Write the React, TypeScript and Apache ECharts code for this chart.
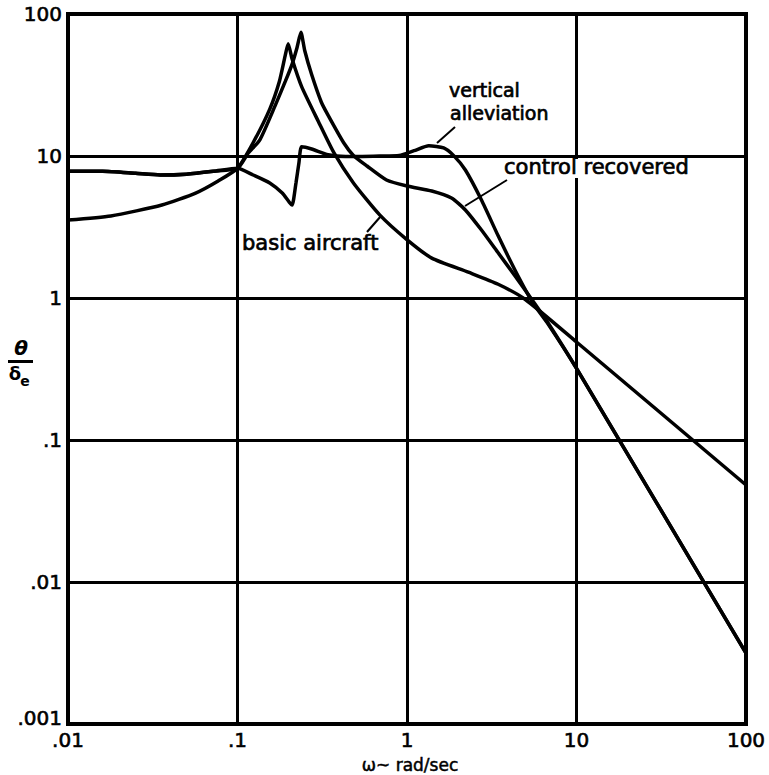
import React, { useEffect, useRef } from "react";
import * as echarts from "echarts";

const xTickLabels = [".01", ".1", "1", "10", "100"];
const yTickLabels = [".001", ".01", ".1", "1", "10", "100"];

// omega (rad/sec), theta/delta_e
const basicAircraft: [number, number][] = [
  [0.01, 3.54], [0.0179, 3.78], [0.0358, 4.52], [0.0566, 5.48], [0.0769, 6.67],
  [0.1, 8.2], [0.1236, 12.4], [0.155, 21.4], [0.1766, 33.5], [0.191, 50.7],
  [0.199, 61.8], [0.21, 48.2], [0.239, 30.8], [0.3, 17.5], [0.371, 10.5],
  [0.483, 6.46], [0.69, 3.85], [0.99, 2.6], [1.4, 1.91], [2.3, 1.52],
  [3.45, 1.25], [4.97, 0.98], [10, 0.49], [100, 0.0482],
];

const verticalAlleviation: [number, number][] = [
  [0.01, 7.8], [0.016, 7.8], [0.025, 7.55], [0.035, 7.35], [0.05, 7.45],
  [0.072, 7.8], [0.1, 8.2], [0.1236, 7.35], [0.155, 6.46], [0.1837, 5.48],
  [0.2018, 4.74], [0.21, 4.52], [0.2213, 6.46], [0.2303, 8.93], [0.239, 11.6],
  [0.2735, 11.2], [0.342, 10.2], [0.434, 9.9], [0.69, 10.0], [0.9, 10.1],
  [1.1, 10.9], [1.345, 11.8], [1.645, 11.4], [1.88, 10.1], [2.21, 7.97],
  [2.75, 4.9], [3.45, 2.74], [4.34, 1.57], [5.53, 0.924], [6.77, 0.66],
  [10, 0.319], [100, 0.00316],
];

const controlRecovered: [number, number][] = [
  [0.01, 7.8], [0.016, 7.8], [0.025, 7.55], [0.035, 7.35], [0.05, 7.45],
  [0.072, 7.8], [0.1, 8.2], [0.1157, 10.5], [0.1355, 13.0], [0.1675, 22.9],
  [0.1914, 33.5], [0.21, 44.4], [0.2244, 57.9], [0.2366, 74.3], [0.2494, 55.1],
  [0.2735, 37.6], [0.312, 24.0], [0.342, 19.4], [0.423, 12.4], [0.483, 10.1],
  [0.581, 8.5], [0.757, 6.78], [1.0, 6.15], [1.4, 5.67], [1.83, 5.06],
  [2.21, 4.17], [2.75, 3.01], [3.45, 2.08], [4.34, 1.43], [5.53, 0.953],
  [6.77, 0.672], [10, 0.319], [100, 0.00316],
];

const FONT = '"DejaVu Sans", sans-serif';

function lineSeries(name: string, data: [number, number][]) {
  return {
    name,
    type: "line",
    data,
    showSymbol: false,
    symbol: "none",
    smooth: 0.2,
    lineStyle: { color: "#000", width: 3.5 },
    z: 5,
  };
}

function label(text: string, x: number, y: number, size = 21) {
  return {
    type: "text",
    x,
    y,
    z: 10,
    style: {
      text,
      font: `${size}px ${FONT}`,
      fill: "#000",
      stroke: "#000",
      lineWidth: 0.7,
      align: "left",
      verticalAlign: "middle",
    },
  };
}

function leader(x1: number, y1: number, x2: number, y2: number) {
  return {
    type: "line",
    z: 10,
    shape: { x1, y1, x2, y2 },
    style: { stroke: "#000", lineWidth: 2 },
  };
}

export default function App() {
  const ref = useRef<HTMLDivElement>(null);
  useEffect(() => {
    if (!ref.current) return;
    const chart = echarts.init(ref.current, undefined, { renderer: "svg" });
    const axisLabelBase = {
      color: "#000",
      fontFamily: FONT,
      fontSize: 20,
      textBorderColor: "#000",
      textBorderWidth: 0.6,
      showMinLabel: true,
      showMaxLabel: true,
    };
    chart.setOption({
      animation: false,
      backgroundColor: "#fff",
      grid: {
        left: 68,
        right: 23,
        top: 14,
        bottom: 51,
        show: true,
        borderColor: "#000",
        borderWidth: 4,
        backgroundColor: "transparent",
      },
      xAxis: {
        type: "log",
        logBase: 10,
        min: 0.01,
        max: 100,
        splitNumber: 4,
        axisLine: { show: true, lineStyle: { color: "#000", width: 4 } },
        axisTick: { show: false },
        splitLine: { show: true, lineStyle: { color: "#000", width: 3 } },
        axisLabel: {
          ...axisLabelBase,
          margin: 6,
          formatter: (v: number) => xTickLabels[Math.round(Math.log10(v)) + 2] ?? "",
        },
      },
      yAxis: {
        type: "log",
        logBase: 10,
        min: 0.001,
        max: 100,
        splitNumber: 5,
        axisLine: { show: true, lineStyle: { color: "#000", width: 4 } },
        axisTick: { show: false },
        splitLine: { show: true, lineStyle: { color: "#000", width: 3 } },
        axisLabel: {
          ...axisLabelBase,
          margin: 6,
          formatter: (v: number) => {
            const i = Math.round(Math.log10(v)) + 3;
            const t = yTickLabels[i] ?? "";
            return i === 0 ? `{low|${t}}` : t;
          },
          rich: {
            low: {
              fontFamily: FONT,
              fontSize: 20,
              color: "#000",
              textBorderColor: "#000",
              textBorderWidth: 0.6,
              padding: [0, 0, 12, 0],
            },
          },
        },
      },
      series: [
        lineSeries("basic aircraft", basicAircraft),
        lineSeries("vertical alleviation", verticalAlleviation),
        lineSeries("control recovered", controlRecovered),
      ],
      graphic: [
        label("vertical", 449, 90, 19),
        label("alleviation", 450, 113, 19),
        leader(455, 127, 437, 143),
        { type: "rect", shape: { x: 571, y: 159, width: 16, height: 19 }, style: { fill: "#fff" }, z: 9 },
        label("control recovered", 504, 167),
        leader(507, 180, 465, 206),
        label("basic aircraft", 242, 243),
        leader(367, 232, 381, 216),
        {
          type: "text",
          x: 410,
          y: 765,
          style: {
            text: "ω~ rad/sec",
            font: `17px ${FONT}`,
            fill: "#000",
            stroke: "#000",
            lineWidth: 0.5,
            align: "center",
            verticalAlign: "middle",
          },
        },
        {
          type: "text",
          x: 21,
          y: 348,
          style: {
            text: "θ",
            font: `bold italic 20px ${FONT}`,
            fill: "#000",
            align: "center",
            verticalAlign: "middle",
          },
        },
        { type: "rect", shape: { x: 8, y: 360, width: 25, height: 3 }, style: { fill: "#000" } },
        {
          type: "text",
          x: 15,
          y: 373,
          style: {
            text: "δ",
            font: `bold 18px ${FONT}`,
            fill: "#000",
            align: "center",
            verticalAlign: "middle",
          },
        },
        {
          type: "text",
          x: 25,
          y: 381,
          style: {
            text: "e",
            font: `bold 14px ${FONT}`,
            fill: "#000",
            align: "center",
            verticalAlign: "middle",
          },
        },
      ],
    });
    return () => chart.dispose();
  }, []);
  return (
    <div
      ref={ref}
      style={{ position: "fixed", left: 0, top: 0, width: 769, height: 775, background: "#fff" }}
    />
  );
}
